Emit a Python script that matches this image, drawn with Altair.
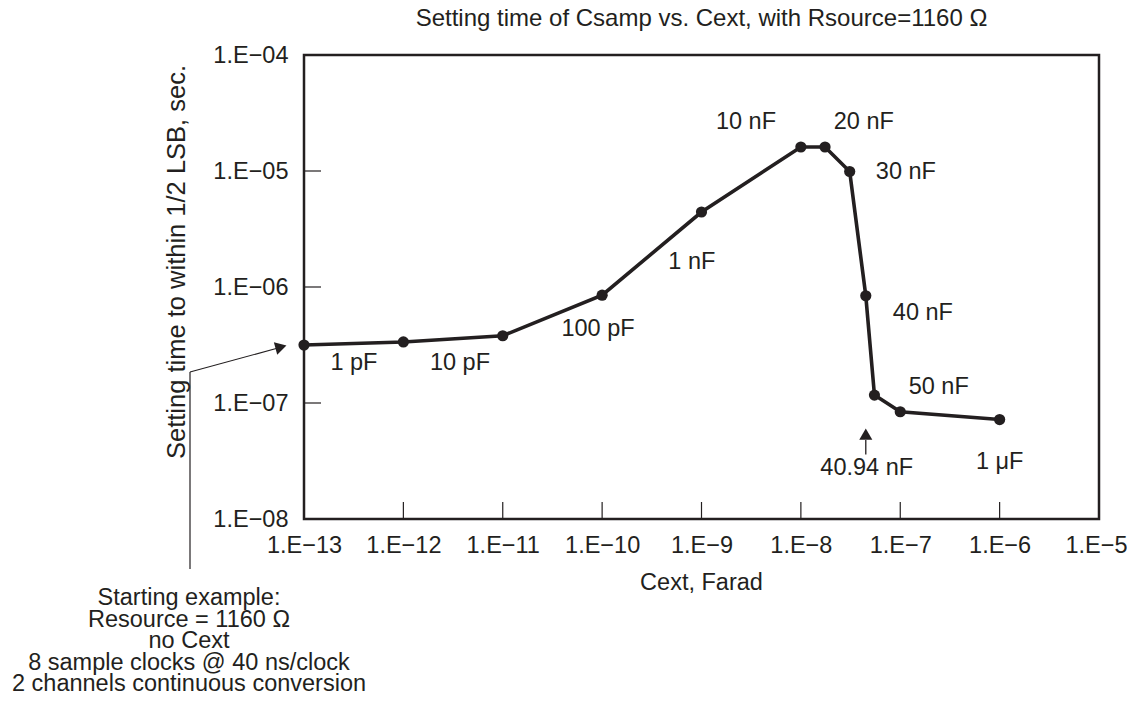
import altair as alt
import pandas as pd

# ---- data ----
cext_F = [1e-13, 1e-12, 1e-11, 1e-10, 1e-9, 1e-8, 1.75e-8, 3.1e-8, 4.5e-8, 5.5e-8, 1e-7, 1e-6]
settle_s = [3.16e-7, 3.36e-7, 3.8e-7, 8.5e-7, 4.43e-6, 1.61e-5, 1.61e-5, 9.9e-6, 8.4e-7, 1.17e-7, 8.4e-8, 7.2e-8]

label_text = ["1 pF", "10 pF", "100 pF", "1 nF", "10 nF", "20 nF", "30 nF", "40 nF", "50 nF", "40.94 nF", "1 \u03bcF"]
label_x = [3.18e-13, 3.71e-12, 9.1e-11, 8.0e-10, 2.8e-9, 4.3e-8, 1.14e-7, 1.69e-7, 2.44e-7, 4.6e-8, 1.0e-6]
label_y = [2.21e-7, 2.21e-7, 4.35e-7, 1.64e-6, 2.64e-5, 2.64e-5, 9.8e-6, 5.97e-7, 1.37e-7, 2.75e-8, 3.1e-8]

x_ticks = [1e-13, 1e-12, 1e-11, 1e-10, 1e-9, 1e-8, 1e-7, 1e-6, 1e-5]
y_ticks = [1e-8, 1e-7, 1e-6, 1e-5, 1e-4]

arrow_x = [4.5e-8]
arrow_y0 = [3.6e-8]
arrow_y1 = [4.8e-8]
arrow_head_y = [5.4e-8]

title_text = "Setting time of Csamp vs. Cext, with Rsource=1160 \u03a9"
x_title = "Cext, Farad"
y_title = "Setting time to within 1/2 LSB, sec."
note_lines = ["Starting example:", "Resource = 1160 \u03a9", "no Cext",
              "8 sample clocks @ 40 ns/clock", "2 channels continuous conversion"]

INK = "#231f20"
FONT = "Liberation Sans"
FS = 23.5
W, H = 795, 464

xscale = alt.Scale(type="log", domain=[1e-13, 1e-5], nice=False)
yscale = alt.Scale(type="log", domain=[1e-8, 1e-4], nice=False)

x_axis = alt.Axis(values=x_ticks, title=None, grid=False, domain=False, ticks=False, tickSize=0,
                  labelPadding=33, labelBaseline="alphabetic", labelFontSize=FS, labelFont=FONT,
                  labelColor=INK, labelFlush=False, labelOverlap=False,
                  labelOffset={"condition": {"test": "datum.value > 5e-6", "value": -3}, "value": 0},
                  labelExpr="'1.E\u2212' + abs(round(log(datum.value)/LN10))")
y_axis = alt.Axis(values=y_ticks, title=None, grid=False, domain=False, ticks=False, tickSize=0,
                  labelPadding=16, labelBaseline="middle", labelFontSize=FS, labelFont=FONT,
                  labelColor=INK, labelFlush=False, labelOverlap=False,
                  labelExpr="'1.E\u2212' + (abs(round(log(datum.value)/LN10)) < 10 ? '0' : '') + abs(round(log(datum.value)/LN10))")


def X(field):
    return alt.X(f"{field}:Q", scale=xscale, axis=x_axis)


def Y(field):
    return alt.Y(f"{field}:Q", scale=yscale, axis=y_axis)


df = pd.DataFrame({"c": cext_F, "t": settle_s})
labels = pd.DataFrame({"lab": label_text, "lx": label_x, "ly": label_y})
xt = pd.DataFrame({"v": x_ticks[1:-1]})
yt = pd.DataFrame({"v": y_ticks[1:-1]})
arrow = pd.DataFrame({"ax": arrow_x, "a0": arrow_y0, "a1": arrow_y1, "ah": arrow_head_y})

line = alt.Chart(df).mark_line(color=INK, strokeWidth=3.6).encode(x=X("c"), y=Y("t"))
pts = alt.Chart(df).mark_circle(color=INK, size=125, opacity=1).encode(x=X("c"), y=Y("t"))

xtick = alt.Chart(xt).mark_rule(color=INK, strokeWidth=1.2).encode(
    x=X("v"), y=alt.value(H), y2=alt.value(H - 17))
ytick = alt.Chart(yt).mark_rule(color=INK, strokeWidth=1.2).encode(
    y=Y("v"), x=alt.value(0), x2=alt.value(17))

lab = alt.Chart(labels).mark_text(font=FONT, fontSize=FS, color=INK, align="center",
                                  baseline="middle").encode(x=X("lx"), y=Y("ly"), text="lab:N")

arr_line = alt.Chart(arrow).mark_rule(color=INK, strokeWidth=1.3).encode(
    x=X("ax"), y=Y("a0"), y2="a1:Q")
arr_head = alt.Chart(arrow).mark_point(shape="triangle-up", filled=True, color=INK, size=170,
                                       opacity=1).encode(x=X("ax"), y=Y("ah"))

one = pd.DataFrame({"k": [0]})
note_seg1 = alt.Chart(one).mark_rule(color=INK, strokeWidth=1.2).encode(
    x=alt.value(-114), y=alt.value(317), x2=alt.value(-26), y2=alt.value(293))
note_seg2 = alt.Chart(one).mark_rule(color=INK, strokeWidth=1.2).encode(
    x=alt.value(-114), y=alt.value(317), x2=alt.value(-114), y2=alt.value(514))
note_head = alt.Chart(one).mark_point(shape="triangle-right", filled=True, color=INK, size=170,
                                      opacity=1, angle=345).encode(
    x=alt.value(-23), y=alt.value(292))
note_text = alt.Chart(one).mark_text(font=FONT, fontSize=FS, color=INK, align="center",
                                     baseline="alphabetic", lineHeight=21.5).encode(
    x=alt.value(-115), y=alt.value(550), text=alt.value(note_lines))

title = alt.Chart(pd.DataFrame({"s": [title_text]})).mark_text(
    font=FONT, fontSize=24, color=INK, align="center", baseline="alphabetic").encode(
    x=alt.value(W / 2), y=alt.value(-29), text="s:N")
xtitle = alt.Chart(pd.DataFrame({"s": [x_title]})).mark_text(
    font=FONT, fontSize=FS, color=INK, align="center", baseline="alphabetic").encode(
    x=alt.value(W / 2), y=alt.value(535), text="s:N")
ytitle = alt.Chart(pd.DataFrame({"s": [y_title]})).mark_text(
    font=FONT, fontSize=25.5, color=INK, align="center", baseline="middle", angle=270).encode(
    x=alt.value(-127), y=alt.value(207), text="s:N")

chart = alt.layer(
    xtick, ytick, line, pts, lab, arr_line, arr_head,
    note_seg1, note_seg2, note_head, note_text, title, xtitle, ytitle
).properties(
    width=W, height=H,
    autosize=alt.AutoSizeParams(type="none"),
    padding={"left": 296, "top": 47, "right": 28, "bottom": 179},
    background="white",
).configure_view(stroke=INK, strokeWidth=2.5)

chart.save("out.html", embed_options={"renderer": "svg", "actions": False})
